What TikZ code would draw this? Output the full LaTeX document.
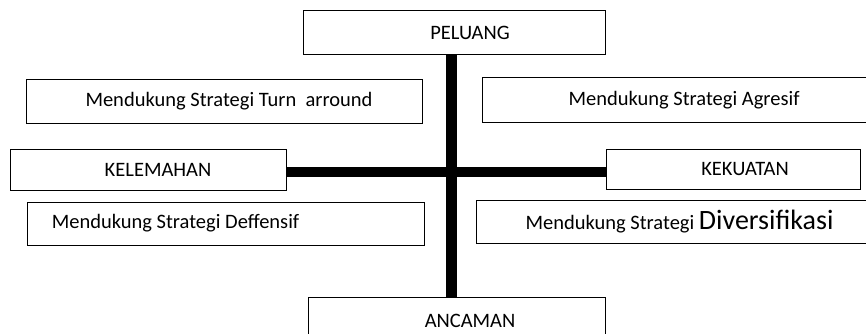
\documentclass[tikz,border=0pt]{standalone}
\usepackage{fontspec}
\setmainfont{Carlito}
\usetikzlibrary{calc}

\tikzset{
    swotbox/.style={draw, line width=1pt, inner sep=0pt, fill=white,
        font=\fontsize{20.5}{24}\selectfont},
    bar/.style={line width=10.5pt},
}

\begin{document}
\begin{tikzpicture}[x=1pt, y=-1pt]
    % Keep the page at the size of the reference
    \clip (0,0) rectangle (866,334);
    \fill[white] (0,0) rectangle (866,334);

    % Define the crossing point of the two bars
    \coordinate (cross) at (451.5,172);

    % Draw the four axis boxes
    \node[swotbox, minimum width=302, minimum height=44] (peluang) at (454,33) {\hspace*{32pt}PELUANG};
    \node[swotbox, minimum width=276, minimum height=41] (kelemahan) at (148,169.5) {\hspace*{20pt}KELEMAHAN};
    \node[swotbox, minimum width=254, minimum height=40] (kekuatan) at (733,169) {\hspace*{24pt}KEKUATAN};
    \node[swotbox, minimum width=297, minimum height=48] (ancaman) at (456.5,321) {\hspace*{27pt}ANCAMAN};

    % Draw the four strategy boxes
    \node[swotbox, minimum width=396, minimum height=43] (turn) at (224,101.5) {\hspace*{10pt}Mendukung Strategi Turn\ \ arround};
    \node[swotbox, minimum width=404, minimum height=44] (agresif) at (684,100) {Mendukung Strategi Agresif};
    \node[swotbox, minimum width=397, minimum height=43] (deffensif) at (225.5,223.5) {Mendukung Strategi Deffensif\hspace*{100pt}};
    \node[swotbox, minimum width=407, minimum height=43] (diversifikasi) at (679.5,221.5)
        {Mendukung Strategi {\fontsize{28}{32}\selectfont Diversifikasi}};

    % Draw the thick bars between the boxes
    \draw[bar] (peluang.south -| cross) -- (ancaman.north -| cross);
    \draw[bar] (kelemahan.east |- cross) -- (kekuatan.west |- cross);

\end{tikzpicture}
\end{document}
